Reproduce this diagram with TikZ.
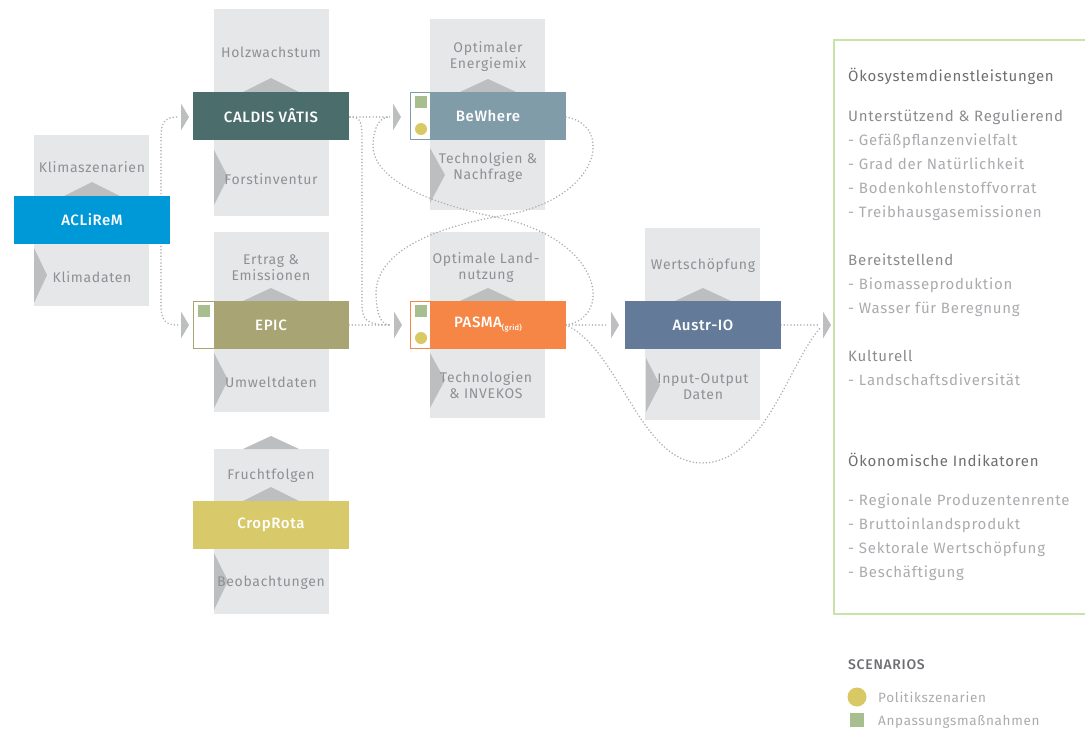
\documentclass[tikz,border=0pt]{standalone}
\usepackage{fontspec}
\setmainfont{Fira Sans}
\newfontfamily\medfont{Fira Sans Medium}
\definecolor{panelgray}{HTML}{E6E7E8}
\definecolor{chevgray}{HTML}{BCBEC0}
\definecolor{txtgray}{HTML}{8E9093}
\definecolor{headgray}{HTML}{6D6E71}
\definecolor{subgray}{HTML}{8A8B8E}
\definecolor{itemgray}{HTML}{A9ABAE}
\definecolor{dotgray}{HTML}{ACADB0}
\definecolor{cacl}{HTML}{0099D8}
\definecolor{ccal}{HTML}{4B6E6C}
\definecolor{cbew}{HTML}{819CA9}
\definecolor{cepic}{HTML}{A8A473}
\definecolor{cpas}{HTML}{F58646}
\definecolor{caus}{HTML}{637B99}
\definecolor{ccrop}{HTML}{D8CA6B}
\definecolor{sqgreen}{HTML}{A9BE8E}
\definecolor{cyel}{HTML}{D8C964}
\definecolor{cborder}{HTML}{C8E2A8}
\begin{document}
\begin{tikzpicture}[x=1pt,y=-1pt,
  font=\fontsize{14}{16}\selectfont\addfontfeatures{LetterSpace=5},
  model/.style={minimum height=48pt, inner sep=0pt, text=white, font=\medfont\fontsize{15}{17}\selectfont\addfontfeatures{LetterSpace=4}},
  ptext/.style={text=txtgray, align=center, inner sep=0pt},
  conn/.style={draw=dotgray, line width=1.7pt, dash pattern=on 0pt off 3.3pt, line cap=round, shorten >=3pt},
  rtext/.style={anchor=base west, inner sep=0pt, font=\fontsize{15}{17}\selectfont\addfontfeatures{LetterSpace=5}},
  ltext/.style={anchor=base west, inner sep=0pt, text=itemgray, font=\fontsize{13.5}{15}\selectfont\addfontfeatures{LetterSpace=5}},
]
\useasboundingbox (0,0) rectangle (1085,731);

% ---- grey panels ----
\fill[panelgray] (34,135) rectangle (149,306);
\fill[panelgray] (214,9) rectangle (329,216);
\fill[panelgray] (430,19) rectangle (545,210);
\fill[panelgray] (214,232) rectangle (329,412);
\fill[panelgray] (430,232) rectangle (545,418);
\fill[panelgray] (645,228) rectangle (760,420);
\fill[panelgray] (214,449) rectangle (329,614);

% ---- chevrons ----
\fill[chevgray] (64,196) -- (92,182) -- (120,196) -- cycle;
\fill[chevgray] (34,248) -- (47,275) -- (34,303) -- cycle;
\fill[chevgray] (243,92) -- (271,78) -- (299,92) -- cycle;
\fill[chevgray] (214,150) -- (228,177) -- (214,205) -- cycle;
\fill[chevgray] (460,92) -- (488,79) -- (516,92) -- cycle;
\fill[chevgray] (430,148) -- (445,175) -- (430,203) -- cycle;
\fill[chevgray] (243,301) -- (271,288) -- (299,301) -- cycle;
\fill[chevgray] (214,353) -- (228,380) -- (214,408) -- cycle;
\fill[chevgray] (460,301) -- (488,288) -- (516,301) -- cycle;
\fill[chevgray] (430,353) -- (445,380) -- (430,408) -- cycle;
\fill[chevgray] (675,301) -- (703,288) -- (731,301) -- cycle;
\fill[chevgray] (646,358) -- (660,385) -- (646,412) -- cycle;
\fill[chevgray] (243,449) -- (271,436) -- (299,449) -- cycle;
\fill[chevgray] (243,501) -- (271,487) -- (299,501) -- cycle;
\fill[chevgray] (214,553) -- (228,581) -- (214,610) -- cycle;

% ---- panel texts ----
\node[ptext] (t1) at (92,167) {Klimaszenarien};
\node[ptext] (t2) at (92,277) {Klimadaten};
\node[ptext] (t3) at (271,52) {Holzwachstum};
\node[ptext] (t4) at (271,179) {Forstinventur};
\node[ptext] (t5) at (488,57) {Optimaler\\Energiemix};
\node[ptext] (t6) at (488,168) {Technolgien \&\\Nachfrage};
\node[ptext] (t7) at (271,268) {Ertrag \&\\Emissionen};
\node[ptext] (t8) at (271,382) {Umweltdaten};
\node[ptext] (t9) at (486,268) {Optimale Land-\\nutzung};
\node[ptext] (t10) at (486,385) {Technologien\\\& INVEKOS};
\node[ptext] (t11) at (703,266) {Wertschöpfung};
\node[ptext] (t12) at (703,387) {Input-Output\\Daten};
\node[ptext] (t13) at (271,476) {Fruchtfolgen};
\node[ptext] (t14) at (271,583) {Beobachtungen};

% ---- arrow tip coordinates ----
\coordinate (tcal) at (181,117);
\coordinate (tepic) at (181,325);
\coordinate (tbew) at (393,117);
\coordinate (tpas) at (394,325);
\coordinate (taus) at (611,325);
\coordinate (tout) at (823,325);
\coordinate (aclout) at (161,220);
\coordinate (calout) at (350,117);
\coordinate (bewout) at (566,117);
\coordinate (epicout) at (349,325);
\coordinate (pasout) at (566,325);
\coordinate (ausout) at (781,325);

% ---- connectors ----
\draw[conn] (aclout) -- (161,138) .. controls (161,122) and (165,117) .. (tcal);
\draw[conn] (aclout) -- (161,305) .. controls (161,320) and (165,325) .. (tepic);
\draw[conn] (calout) -- (tbew);
\draw[conn] (calout) .. controls (361,117) and (362,122) .. (362,140) -- (362,305) .. controls (362,321) and (368,325) .. (tpas);
\draw[conn] (bewout) .. controls (614,125) and (602,200) .. (500,216) .. controls (410,232) and (375,262) .. (376,295) .. controls (377,318) and (382,325) .. (tpas);
\draw[conn] (pasout) .. controls (614,317) and (602,240) .. (500,218) .. controls (410,200) and (372,172) .. (373,145) .. controls (374,125) and (380,117) .. (tbew);
\draw[conn] (epicout) -- (tpas);
\draw[conn] (pasout) -- (taus);
\draw[conn] (ausout) -- (tout);
\draw[conn] (pasout) .. controls (620,350) and (640,463) .. (702,463) .. controls (765,463) and (790,360) .. (tout);

% ---- arrow triangles ----
\foreach \c in {tcal,tepic,tbew,tpas,taus,tout}
  \fill[chevgray] (\c) ++(0,-13.5) -- ++(8,13.5) -- ++(-8,13.5) -- cycle;

% ---- model boxes ----
\node[model, fill=cacl, minimum width=156pt] (acl) at (92,220) {ACLiReM};
\node[model, fill=ccal, minimum width=156pt] (cal) at (271,116) {CALDIS VÂTIS};
\node[model, fill=cbew, minimum width=156pt] (bew) at (488,116) {BeWhere};
\node[model, fill=cepic, minimum width=156pt] (epic) at (271,325) {EPIC};
\node[model, fill=cpas, minimum width=156pt] (pas) at (488,325) {PASMA\raisebox{-3pt}{\fontsize{7.5}{8}\selectfont (grid)}};
\node[model, fill=caus, minimum width=156pt] (aus) at (703,325) {Austr-IO};
\node[model, fill=ccrop, minimum width=156pt] (crop) at (271,525) {CropRota};

% ---- scenario sections ----
\draw[cbew, fill=white, line width=1pt] (410.5,92.5) rectangle (430,139.5);
\fill[sqgreen] (415,96) rectangle (427,108);
\fill[cyel] (421,129) circle (6);
\draw[cepic, fill=white, line width=1pt] (193.5,301.5) rectangle (214,348.5);
\fill[sqgreen] (198,305) rectangle (210,317);
\draw[cpas, fill=white, line width=1pt] (410.5,301.5) rectangle (430,348.5);
\fill[sqgreen] (415,305) rectangle (427,317);
\fill[cyel] (421,338) circle (6);

% ---- output panel ----
\draw[cborder, line width=1.5pt] (1086,40) -- (834,40) -- (834,614) -- (1086,614);
\node[rtext, text=headgray] (h1) at (848,81) {Ökosystemdienstleistungen};
\node[rtext, text=subgray] (s1) at (848,121) {Unterstützend \& Regulierend};
\node[rtext, text=itemgray] (i1) at (848,145) {- Gefäßpflanzenvielfalt};
\node[rtext, text=itemgray] (i2) at (848,169) {- Grad der Natürlichkeit};
\node[rtext, text=itemgray] (i3) at (848,193) {- Bodenkohlenstoffvorrat};
\node[rtext, text=itemgray] (i4) at (848,217) {- Treibhausgasemissionen};
\node[rtext, text=subgray] (s2) at (848,265) {Bereitstellend};
\node[rtext, text=itemgray] (i5) at (848,289) {- Biomasseproduktion};
\node[rtext, text=itemgray] (i6) at (848,313) {- Wasser für Beregnung};
\node[rtext, text=subgray] (s3) at (848,361) {Kulturell};
\node[rtext, text=itemgray] (i7) at (848,385) {- Landschaftsdiversität};
\node[rtext, text=headgray] (h2) at (848,466) {Ökonomische Indikatoren};
\node[rtext, text=itemgray] (i8) at (848,505) {- Regionale Produzentenrente};
\node[rtext, text=itemgray] (i9) at (848,529) {- Bruttoinlandsprodukt};
\node[rtext, text=itemgray] (i10) at (848,553) {- Sektorale Wertschöpfung};
\node[rtext, text=itemgray] (i11) at (848,577) {- Beschäftigung};

% ---- legend ----
\node[anchor=base west, inner sep=0pt, text=headgray, font=\medfont\fontsize{14}{16}\selectfont\addfontfeatures{LetterSpace=5}] (leg) at (848,669) {SCENARIOS};
\fill[cyel] (857,697) circle (9.5);
\node[ltext] (l1) at (878,702) {Politikszenarien};
\fill[sqgreen] (850,713) rectangle (864,727);
\node[ltext] (l2) at (878,725) {Anpassungsmaßnahmen};
\end{tikzpicture}
\end{document}
